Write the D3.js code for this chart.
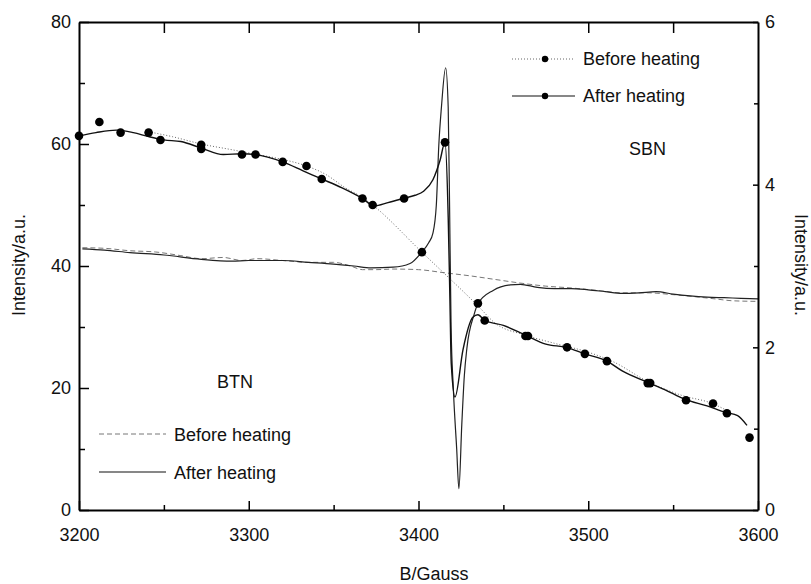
<!DOCTYPE html>
<html>
<head>
<meta charset="utf-8">
<script src="https://cdn.jsdelivr.net/npm/d3@7"></script>
<style>
  body { margin: 0; background: #fff; }
  svg text { font-family: "Liberation Sans", Arial, sans-serif; font-size: 18px; fill: #111; }
</style>
</head>
<body>
<svg id="chart" width="811" height="584"></svg>
<script>
// field values (Gauss) and intensities
// BTN curves use the left axis, SBN curves the right axis

var btnBeforeB = [3202, 3215, 3230, 3245, 3260, 3272, 3285, 3296, 3305, 3320, 3335, 3350, 3360, 3367, 3375, 3385, 3400, 3415, 3430, 3445, 3460, 3475, 3490, 3505, 3520, 3535, 3550, 3565, 3575, 3585, 3600];
var btnBeforeI = [43.0, 42.9, 42.5, 42.3, 41.7, 41.2, 41.4, 40.9, 41.2, 40.9, 40.6, 40.6, 40.0, 39.4, 39.4, 39.5, 39.4, 38.9, 38.4, 37.8, 37.2, 36.7, 36.4, 36.0, 35.6, 35.6, 35.3, 34.9, 34.6, 34.3, 34.2];

var btnAfterB = [3202, 3215, 3230, 3250, 3272, 3290, 3300, 3320, 3335, 3350, 3362, 3372, 3385, 3395, 3402, 3406, 3408.5, 3410.5, 3412, 3413.5, 3416, 3417.5, 3418.3, 3419.2, 3420.5, 3422.5, 3423.8, 3425.5, 3427, 3428.5, 3432.7, 3435, 3444, 3454, 3460, 3470, 3480, 3490, 3500, 3510, 3520, 3530, 3540, 3550, 3560, 3570, 3580, 3590, 3600];
var btnAfterI = [42.8, 42.6, 42.2, 41.8, 41.1, 40.8, 40.9, 40.9, 40.6, 40.3, 40.0, 39.7, 39.8, 40.4, 42.3, 43.8, 45.4, 50, 60, 66, 72.5, 66, 50, 30, 20, 10, 3.5, 14, 22, 26.5, 32, 33.8, 36.0, 36.9, 37.0, 36.5, 36.3, 36.3, 36.1, 35.8, 35.5, 35.6, 35.8, 35.4, 35.1, 34.9, 34.8, 34.7, 34.6];

var sbnBeforeB = [3241, 3255, 3272, 3290, 3305, 3320, 3334, 3345, 3357, 3368, 3373, 3402, 3435, 3445, 3463, 3480, 3500, 3515, 3535, 3555, 3573, 3582];
var sbnBeforeI = [4.65, 4.59, 4.50, 4.43, 4.37, 4.31, 4.23, 4.13, 3.96, 3.83, 3.75, 3.17, 2.51, 2.30, 2.15, 2.05, 1.94, 1.82, 1.58, 1.41, 1.31, 1.22];

var sbnAfterB = [3200, 3210, 3222, 3232, 3241, 3250, 3260, 3272, 3285, 3296, 3304, 3320, 3332, 3343, 3355, 3367, 3374, 3382, 3391, 3398, 3403, 3408.5, 3412.7, 3415.6, 3417.5, 3418.5, 3419.3, 3421.5, 3426.2, 3432, 3435, 3439, 3450, 3463, 3475, 3487, 3498, 3511, 3520, 3535, 3545, 3557, 3570, 3581, 3588, 3593.5];
var sbnAfterI = [4.60, 4.64, 4.67, 4.64, 4.59, 4.55, 4.53, 4.45, 4.37, 4.38, 4.37, 4.28, 4.17, 4.07, 3.96, 3.83, 3.74, 3.78, 3.83, 3.87, 3.92, 4.06, 4.30, 4.52, 3.60, 2.60, 1.80, 1.39, 1.97, 2.37, 2.40, 2.33, 2.27, 2.15, 2.04, 2.00, 1.92, 1.83, 1.71, 1.57, 1.48, 1.36, 1.28, 1.20, 1.16, 1.04];

// symbols drawn on the SBN curves
var sbnBeforeDotB = [3212, 3241, 3272, 3334, 3402, 3435, 3463, 3535, 3573.5, 3595];
var sbnBeforeDotI = [4.77, 4.64, 4.49, 4.23, 3.17, 2.54, 2.14, 1.56, 1.31, 0.89];
var sbnAfterDotB = [3200, 3224.5, 3248, 3272, 3296, 3304, 3320, 3343, 3367, 3373, 3391.5, 3415.6, 3439, 3464.5, 3487.5, 3498, 3511, 3536.5, 3557.6, 3581.7];
var sbnAfterDotI = [4.60, 4.64, 4.55, 4.44, 4.37, 4.37, 4.28, 4.07, 3.83, 3.75, 3.83, 4.52, 2.33, 2.14, 2.00, 1.92, 1.83, 1.56, 1.35, 1.19];

var leftTicks = [0, 10, 20, 30, 40, 50, 60, 70, 80];
var rightTicks = [0, 1, 2, 3, 4, 5, 6];
var bottomTicks = [3200, 3250, 3300, 3350, 3400, 3450, 3500, 3550, 3600];

var svg = d3.select("#chart");

var plotLeft = 79, plotRight = 758, plotTop = 22, plotBottom = 510;

var x = d3.scaleLinear().domain([3200, 3600]).range([plotLeft, plotRight]);
var yL = d3.scaleLinear().domain([0, 80]).range([plotBottom, plotTop]);
var yR = d3.scaleLinear().domain([0, 6]).range([plotBottom, plotTop]);

function pairs(bs, is) {
  return bs.map(function (b, i) { return [b, is[i]]; });
}

var lineL = d3.line().x(function (d) { return x(d[0]); }).y(function (d) { return yL(d[1]); }).curve(d3.curveMonotoneX);
var lineR = d3.line().x(function (d) { return x(d[0]); }).y(function (d) { return yR(d[1]); }).curve(d3.curveMonotoneX);

// BTN
svg.append("path")
  .attr("d", lineL(pairs(btnBeforeB, btnBeforeI)))
  .attr("fill", "none")
  .attr("stroke", "#777")
  .attr("stroke-width", 1)
  .attr("stroke-dasharray", "5,3");

svg.append("path")
  .attr("d", lineL(pairs(btnAfterB, btnAfterI)))
  .attr("fill", "none")
  .attr("stroke", "#222")
  .attr("stroke-width", 1.2);

// SBN
svg.append("path")
  .attr("d", lineR(pairs(sbnBeforeB, sbnBeforeI)))
  .attr("fill", "none")
  .attr("stroke", "#666")
  .attr("stroke-width", 1)
  .attr("stroke-dasharray", "1,2");

svg.append("path")
  .attr("d", lineR(pairs(sbnAfterB, sbnAfterI)))
  .attr("fill", "none")
  .attr("stroke", "#111")
  .attr("stroke-width", 1.4);

svg.append("g").selectAll("circle")
  .data(pairs(sbnBeforeDotB, sbnBeforeDotI).concat(pairs(sbnAfterDotB, sbnAfterDotI)))
  .enter().append("circle")
  .attr("cx", function (d) { return x(d[0]); })
  .attr("cy", function (d) { return yR(d[1]); })
  .attr("r", 4.3)
  .attr("fill", "#000");

// axes, ticks pointing inward
var axL = svg.append("g")
  .attr("transform", "translate(" + plotLeft + ",0)")
  .call(d3.axisLeft(yL).tickValues(leftTicks).tickSizeInner(-10).tickSizeOuter(0).tickPadding(8)
    .tickFormat(function (d) { return d % 20 === 0 ? d : ""; }));
axL.selectAll(".tick line").attr("x2", function (d) { return d % 20 === 0 ? 10 : 6; });

var axR = svg.append("g")
  .attr("transform", "translate(" + plotRight + ",0)")
  .call(d3.axisRight(yR).tickValues(rightTicks).tickSizeInner(-5).tickSizeOuter(0).tickPadding(7)
    .tickFormat(function (d) { return d % 2 === 0 ? d : ""; }));
axR.selectAll(".tick line").attr("x2", function (d) { return d % 2 === 0 ? -5 : -4; });

var axB = svg.append("g")
  .attr("transform", "translate(0," + plotBottom + ")")
  .call(d3.axisBottom(x).tickValues(bottomTicks).tickSizeInner(-9).tickSizeOuter(0).tickPadding(18)
    .tickFormat(function (d) { return d % 100 === 0 ? d : ""; }));
axB.selectAll(".tick line").attr("y2", function (d) { return d % 100 === 0 ? -9 : -5; });

var axT = svg.append("g")
  .attr("transform", "translate(0," + plotTop + ")")
  .call(d3.axisTop(x).tickValues(bottomTicks.slice(1, -1)).tickSizeInner(-11).tickSizeOuter(0)
    .tickFormat(""));

svg.selectAll(".domain").attr("stroke", "#000").attr("stroke-width", 2);
svg.selectAll(".tick line").attr("stroke", "#000").attr("stroke-width", 1.5);
svg.selectAll(".tick text")
  .style("font-family", "'Liberation Sans', Arial, sans-serif")
  .style("font-size", "18px")
  .attr("fill", "#111");

// axis titles
svg.append("text")
  .attr("transform", "translate(19,265) rotate(-90)")
  .attr("text-anchor", "middle")
  .attr("dominant-baseline", "central")
  .text("Intensity/a.u.");

svg.append("text")
  .attr("transform", "translate(801,265) rotate(90)")
  .attr("text-anchor", "middle")
  .attr("dominant-baseline", "central")
  .text("Intensity/a.u.");

svg.append("text")
  .attr("x", 434)
  .attr("y", 580)
  .attr("text-anchor", "middle")
  .text("B/Gauss");

// sample labels
svg.append("text").attr("x", 629).attr("y", 155).text("SBN");
svg.append("text").attr("x", 217).attr("y", 388).text("BTN");

// legend for SBN (top right)
var legSbn = svg.append("g");
legSbn.append("line").attr("x1", 512).attr("x2", 575).attr("y1", 59).attr("y2", 59)
  .attr("stroke", "#666").attr("stroke-dasharray", "1,2");
legSbn.append("circle").attr("cx", 545).attr("cy", 59).attr("r", 3.2).attr("fill", "#000");
legSbn.append("text").attr("x", 583).attr("y", 65).text("Before heating");
legSbn.append("line").attr("x1", 512).attr("x2", 575).attr("y1", 96).attr("y2", 96)
  .attr("stroke", "#111").attr("stroke-width", 1.2);
legSbn.append("circle").attr("cx", 545).attr("cy", 96).attr("r", 3.2).attr("fill", "#000");
legSbn.append("text").attr("x", 583).attr("y", 102).text("After heating");

// legend for BTN (bottom left)
var legBtn = svg.append("g");
legBtn.append("line").attr("x1", 99).attr("x2", 166).attr("y1", 434).attr("y2", 434)
  .attr("stroke", "#777").attr("stroke-dasharray", "5,3");
legBtn.append("text").attr("x", 174).attr("y", 441).text("Before heating");
legBtn.append("line").attr("x1", 99).attr("x2", 166).attr("y1", 472).attr("y2", 472)
  .attr("stroke", "#111").attr("stroke-width", 1.2);
legBtn.append("text").attr("x", 174).attr("y", 479).text("After heating");
</script>
</body>
</html>
